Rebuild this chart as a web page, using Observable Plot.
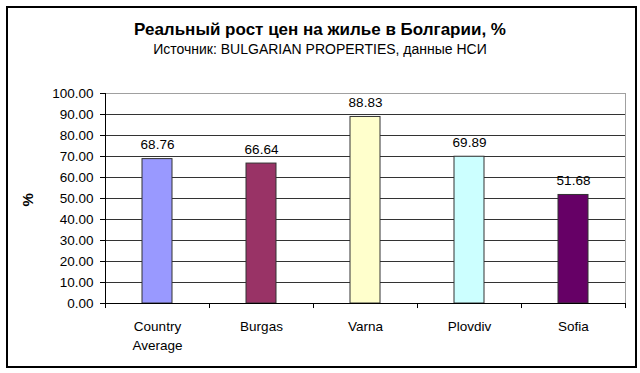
<!DOCTYPE html>
<html>
<head>
<meta charset="utf-8">
<script src="https://cdn.jsdelivr.net/npm/d3@7"></script>
<script src="https://cdn.jsdelivr.net/npm/@observablehq/plot@0.6"></script>
<style>
  html, body { margin: 0; padding: 0; background: #fff; }
  #wrap { position: relative; width: 640px; height: 373px; overflow: hidden; font-family: "Liberation Sans", Arial, sans-serif; }
  #border { position: absolute; left: 6px; top: 6px; width: 627px; height: 358px; border: 2px solid #000; pointer-events: none; }
  #title { position: absolute; left: 0; width: 640px; top: 20px; text-align: center; font-size: 17px; font-weight: bold; color: #000; }
  #subtitle { position: absolute; left: 0; width: 640px; top: 41px; text-align: center; font-size: 14px; color: #000; }
  #chart { position: absolute; left: 0; top: 0; }
</style>
</head>
<body>
<div id="wrap">
  <div id="chart"></div>
  <div id="title">Реальный рост цен на жилье в Болгарии, %</div>
  <div id="subtitle">Источник: BULGARIAN PROPERTIES, данные НСИ</div>
  <div id="border"></div>
</div>
<script>
const categories = ["Country Average", "Burgas", "Varna", "Plovdiv", "Sofia"];
const values = [68.76, 66.64, 88.83, 69.89, 51.68];
const colors = ["#9999FF", "#993366", "#FFFFCC", "#CCFFFF", "#660066"];
const yTicks = [0, 10, 20, 30, 40, 50, 60, 70, 80, 90, 100];
const yLabel = "%";

const data = categories.map((c, i) => ({category: c, value: values[i], color: colors[i]}));
const categoryLines = {"Country Average": "Country\nAverage"};

const W = 640, H = 373;
const mL = 105, mR = 15, mT = 93, mB = 70;
const half = (W - mL - mR) / categories.length / 2;
const fs = 13.5;

const chart = Plot.plot({
  width: W,
  height: H,
  marginLeft: mL,
  marginRight: mR,
  marginTop: mT,
  marginBottom: mB,
  style: {fontFamily: "Liberation Sans, Arial, sans-serif", fontSize: fs + "px", color: "#000", background: "transparent"},
  x: {domain: categories, padding: 0, label: null},
  y: {domain: [0, 100], label: null},
  marks: [
    Plot.ruleY(yTicks.slice(0, -1), {stroke: "#333", strokeWidth: 1}),
    Plot.frame({stroke: "#a0a0a0", strokeWidth: 1}),
    Plot.barY(data, {x: "category", y: "value", fill: "color", stroke: "#333", strokeWidth: 1, insetLeft: 37, insetRight: 37}),
    Plot.text(data, {x: "category", y: "value", text: d => d.value.toFixed(2), dy: -14, fontSize: fs, fill: "#000"}),
    Plot.ruleX([0], {x: () => categories[0], dx: -half, stroke: "#000"}),
    Plot.ruleY([0], {stroke: "#000"}),
    Plot.ruleX(categories, {x: d => d, y1: 0, y2: -2.4, dx: -half, stroke: "#000"}),
    Plot.ruleX([categories[categories.length - 1]], {x: d => d, y1: 0, y2: -2.4, dx: half, stroke: "#000"}),
    Plot.axisY({ticks: yTicks, tickSize: 5, tickPadding: 7, tickFormat: d => d.toFixed(2), fontSize: fs, label: null, color: "#000"}),
    Plot.axisX({tickSize: 0, tickPadding: 15, tickFormat: d => categoryLines[d] || d, fontSize: fs, label: null, lineHeight: 1.35}),
    Plot.text([yLabel], {frameAnchor: "left", dx: -77, dy: 8, rotate: -90, fontSize: 15, fontWeight: "bold", text: d => d})
  ]
});
document.getElementById("chart").appendChild(chart);
</script>
</body>
</html>
